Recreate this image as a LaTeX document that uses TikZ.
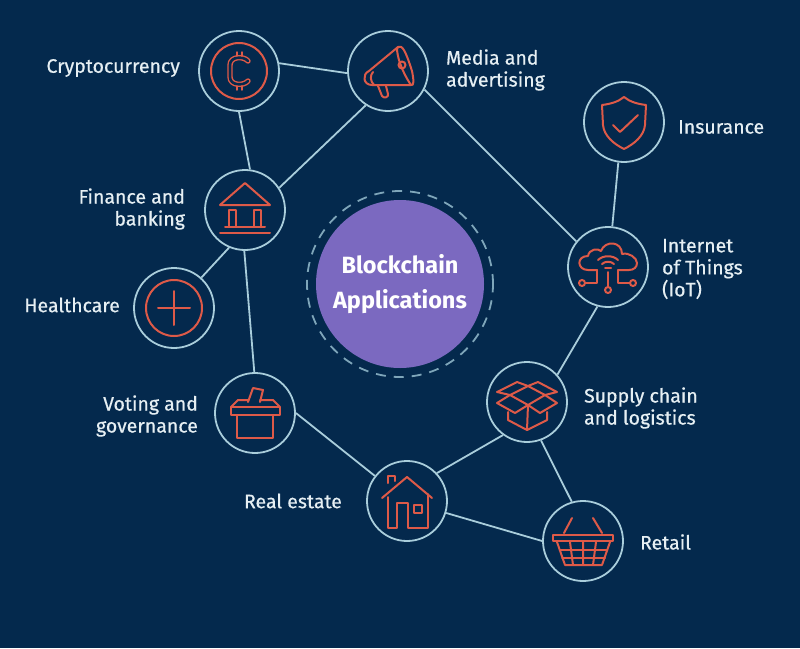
\documentclass[tikz,border=0pt]{standalone}
\usepackage{xcolor}
\usepackage{fontspec}
\setmainfont{Fira Sans}
\newfontfamily\labelfont{Fira Sans}[FakeBold=0.5]
\usetikzlibrary{shapes.geometric, positioning}
\definecolor{navy}{HTML}{04294D}
\definecolor{ringblue}{HTML}{A9CDDB}
\definecolor{iconred}{HTML}{DE5A48}
\definecolor{violet}{HTML}{7B69C0}
\definecolor{dashblue}{HTML}{7FA6BA}
\definecolor{labeltext}{HTML}{E6EFF3}
\tikzset{
  hub/.style={
    circle, minimum size=80pt, inner sep=0pt,
    draw=ringblue, line width=1.8pt,
  },
  core/.style={
    circle, minimum size=168pt, inner sep=0pt,
    fill=violet, text=white, align=center,
    font=\fontsize{23.5}{35}\selectfont\bfseries,
  },
  coredash/.style={
    circle, minimum size=186pt, inner sep=0pt,
    draw=dashblue, line width=1.8pt, dash pattern=on 10pt off 8pt,
  },
  hublabel/.style={
    inner sep=0pt, text=labeltext,
    font=\labelfont\fontsize{19.5}{22}\selectfont,
  },
  link/.style={draw=ringblue, line width=1.8pt},
  iconline/.style={draw=iconred, line width=2pt, line join=round, line cap=round},
  coinicon/.pic={
    \draw[iconline] (0,0) circle (28);
    \draw[iconline, double=navy, double distance=2.6pt, line width=1.4pt]
      (9,-10) .. controls (5,-15) and (-9,-15) .. (-9,-6) -- (-9,6)
      .. controls (-9,15) and (5,15) .. (9,10);
    \draw[iconline, line width=1.5pt] (-2,-19) -- (-2,-15) (3,-19) -- (3,-15) (-2,15) -- (-2,19) (3,15) -- (3,19);
  },
  hornicon/.pic={
    \draw[iconline] (10,-24) .. controls (14,-26) and (17,-22) .. (24,0) .. controls (26,10) and (26,15) .. (23,14)
      -- (-16,14) .. controls (-25,14) and (-26,3) .. (-19,0) -- cycle;
    \draw[iconline] (10,-24) .. controls (7,-22) and (12,-2) .. (23,14);
    \draw[iconline] (-15,1) .. controls (-18,4) and (-18,10) .. (-14,14);
    \draw[iconline] (-10,15) -- (-6,25) .. controls (-4,28) and (1,26) .. (0,23) -- (-2,15);
    \draw[iconline] (14,-6) circle (3.5);
  },
  bankicon/.pic={
    \draw[iconline] (0,-27) -- (25,-5) -- (-25,-5) -- cycle;
    \draw[iconline] (-16,17) -- (-16,0) -- (-9,0) -- (-9,17) (9,17) -- (9,0) -- (16,0) -- (16,17);
    \draw[iconline] (-20,17) -- (20,17);
    \draw[iconline] (-25,23) -- (25,23);
  },
  plusicon/.pic={
    \draw[iconline] (0,0) circle (28);
    \draw[iconline] (-16,0) -- (16,0) (0,-17) -- (0,17);
  },
  ballicon/.pic={
    \draw[iconline] (-18,2) rectangle (18,25);
    \draw[iconline] (-24,-6) rectangle (25,2);
    \draw[iconline] (-24,-6) -- (-17,-13) -- (-7,-13) (5,-13) -- (18,-13) -- (25,-6);
    \draw[iconline] (-7,-11) -- (-2,-25) -- (8,-23) -- (5,-11);
  },
  houseicon/.pic={
    \draw[iconline] (-25,-3) -- (0,-24) -- (25,-3);
    \draw[iconline] (-19,-18) -- (-19,-25) -- (-12,-25) -- (-12,-20);
    \draw[iconline] (-19,-4) -- (-19,27) -- (-10,27) -- (-10,2) -- (1,2) -- (1,27) -- (21,27) -- (21,-7);
    \draw[iconline] (7,4) rectangle (15,12);
  },
  baskicon/.pic={
    \draw[iconline] (-30,-6) rectangle (30,0);
    \draw[iconline] (-19,-8) -- (-11,-23) (19,-8) -- (10,-23);
    \draw[iconline] (-26,1) -- (-18,24) -- (19,24) -- (27,1);
    \draw[iconline] (-23,9) -- (24,9) (-21,17) -- (22,17);
    \draw[iconline] (-13,1) -- (-10,24) (0,1) -- (0,24) (13,1) -- (10,24);
  },
  boxicon/.pic={
    \draw[iconline] (-17,-7) -- (1,3) -- (18,-7) -- (1,-16) -- cycle;
    \draw[iconline] (-17,-7) -- (-30,-10) -- (-10,-20) -- (1,-16) -- (11,-20) -- (30,-10) -- (18,-7);
    \draw[iconline] (-17,-7) -- (-30,1) -- (-12,11) -- (1,3) -- (13,11) -- (30,1) -- (18,-7);
    \draw[iconline] (-19,10) -- (-19,18) -- (0,28) -- (20,18) -- (20,10);
    \draw[iconline] (1,3) -- (0,28);
  },
  cloudicon/.pic={
    \draw[iconline] (-11,3) -- (-20,3) .. controls (-31,3) and (-32,-11) .. (-20,-11)
      .. controls (-19,-18) and (-10,-19) .. (-7,-16) .. controls (-3,-27) and (14,-26) .. (14,-13)
      .. controls (21,-15) and (29,-9) .. (29,-4) .. controls (29,0) and (26,3) .. (21,3) -- (10,3);
    \draw[iconline] (-10,-7) .. controls (-5,-12) and (5,-12) .. (10,-7);
    \draw[iconline] (-6,-3) .. controls (-3,-6) and (3,-6) .. (6,-3);
    \draw[iconline] (-3,1) -- (3,1);
    \draw[iconline] (0,5) -- (0,20);
    \draw[iconline] (-11,3) -- (-11,16) -- (-23,16);
    \draw[iconline] (10,3) -- (10,16) -- (22,16);
    \draw[iconline] (0,23) circle (3) (-26,16) circle (3) (25,16) circle (3);
  },
  shieldicon/.pic={
    \draw[iconline] (0,-25) .. controls (6,-20) and (14,-18) .. (22,-17) -- (21,3)
      .. controls (20,14) and (10,22) .. (0,27) .. controls (-10,22) and (-20,14) .. (-21,3) -- (-22,-17)
      .. controls (-14,-18) and (-6,-20) .. (0,-25) -- cycle;
    \draw[iconline] (-11,3) -- (-4,10) -- (14,-7);
  },
}

\begin{document}
\begin{tikzpicture}[x=1pt, y=-1pt]

  \fill[navy] (0,0) rectangle (800,648);
  \useasboundingbox (0,0) rectangle (800,648);

  \node[core] (apps) at (400,284) {Blockchain\\Applications};
  \node[coredash] (appsring) at (400,284) {};

  \node[hub] (crypto) at (239,71) {};
  \node[hub] (media) at (388,71) {};
  \node[hub] (finance) at (245,210) {};
  \node[hub] (health) at (174,308) {};
  \node[hub] (voting) at (255,413) {};
  \node[hub] (estate) at (407,501) {};
  \node[hub] (retail) at (583,541) {};
  \node[hub] (supply) at (527,402) {};
  \node[hub] (iot) at (608,267) {};
  \node[hub] (insure) at (624,122) {};

  \node[hublabel, left=18pt of crypto, yshift=3pt] (cryptotxt) {Cryptocurrency};
  \node[hublabel, right=17pt of media, align=left, yshift=1pt] (mediatxt) {Media and\\advertising};
  \node[hublabel, left=19pt of finance, align=right, yshift=1pt] (financetxt) {Finance and\\banking};
  \node[hublabel, left=13pt of health, yshift=3pt] (healthtxt) {Healthcare};
  \node[hublabel, left=16pt of voting, align=right, yshift=-3pt] (votingtxt) {Voting and\\governance};
  \node[hublabel, left=24pt of estate] (estatetxt) {Real estate};
  \node[hublabel, right=16pt of retail, yshift=-1pt] (retailtxt) {Retail};
  \node[hublabel, right=16pt of supply, align=left, yshift=-6pt] (supplytxt) {Supply chain\\and logistics};
  \node[hublabel, right=13pt of iot, align=left, yshift=-2pt] (iottxt) {Internet\\of Things\\(IoT)};
  \node[hublabel, right=13pt of insure, yshift=-5pt] (insuretxt) {Insurance};

  \draw[link] (crypto.11) -- (media.183);
  \draw[link] (crypto.270) -- (finance.83);
  \draw[link] (finance.33) -- (media.237);
  \draw[link] (finance.247) -- (health.48);
  \draw[link] (finance.269) -- (voting.91);
  \draw[link] (voting.0) -- (estate.142);
  \draw[link] (estate.43) -- (supply.234);
  \draw[link] (estate.-17) -- (retail.180);
  \draw[link] (supply.-70) -- (retail.106);
  \draw[link] (supply.42) -- (iot.255);
  \draw[link] (iot.84) -- (insure.262);
  \draw[link] (media.-27) -- (iot.141);

  \pic at (crypto) {coinicon};
  \pic at (media) {hornicon};
  \pic at (finance) {bankicon};
  \pic at (health) {plusicon};
  \pic at (voting) {ballicon};
  \pic at (estate) {houseicon};
  \pic at (retail) {baskicon};
  \pic at (supply) {boxicon};
  \pic at (iot) {cloudicon};
  \pic at (insure) {shieldicon};

\end{tikzpicture}
\end{document}
